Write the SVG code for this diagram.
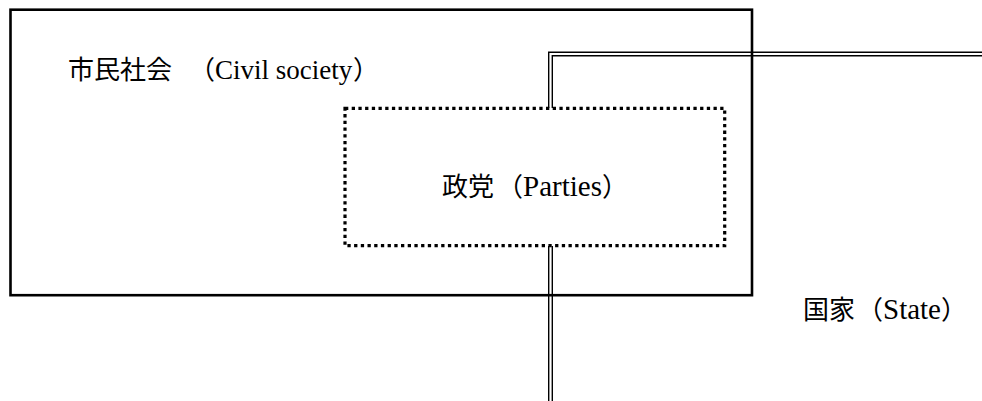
<svg xmlns="http://www.w3.org/2000/svg" width="982" height="401" viewBox="0 0 982 401">
<style>
.cjk{font-family:"Noto Sans CJK JP","Noto Sans CJK SC",sans-serif;font-size:26px;fill:#000}
.lat{font-family:"Liberation Serif","Times New Roman",serif;font-size:29px;fill:#000}
.dbl-o{fill:none;stroke:#000;stroke-width:5}
.dbl-i{fill:none;stroke:#fff;stroke-width:2.2}
</style>
<rect width="982" height="401" fill="#fff"/>
<g id="connectors">
<path class="dbl-o" d="M550.5 108 V54 H982"/>
<path class="dbl-i" d="M550.5 108 V54 H982"/>
<path class="dbl-o" d="M550.5 246 V401"/>
<path class="dbl-i" d="M550.5 246 V401"/>
</g>
<g id="civil-society">
<rect x="10.5" y="9.7" width="741.5" height="285.5" fill="none" stroke="#000" stroke-width="2.6"/>
<text y="79"><tspan class="cjk" x="68">市民社会</tspan><tspan class="cjk" x="215" text-anchor="end">（</tspan><tspan class="lat" x="215" style="font-size:27px">Civil society</tspan><tspan class="cjk" x="353">）</tspan></text>
</g>
<g id="parties">
<rect x="345" y="108.3" width="379.7" height="137.4" fill="none" stroke="#000" stroke-width="3.2" stroke-dasharray="3.3 3.4"/>
<text y="196"><tspan class="cjk" x="442">政党</tspan><tspan class="cjk" x="523" text-anchor="end">（</tspan><tspan class="lat" x="523">Parties</tspan><tspan class="cjk" x="602">）</tspan></text>
</g>
<g id="state">
<text y="319"><tspan class="cjk" x="803">国家</tspan><tspan class="cjk" x="883" text-anchor="end">（</tspan><tspan class="lat" x="883">State</tspan><tspan class="cjk" x="941">）</tspan></text>
</g>
</svg>
